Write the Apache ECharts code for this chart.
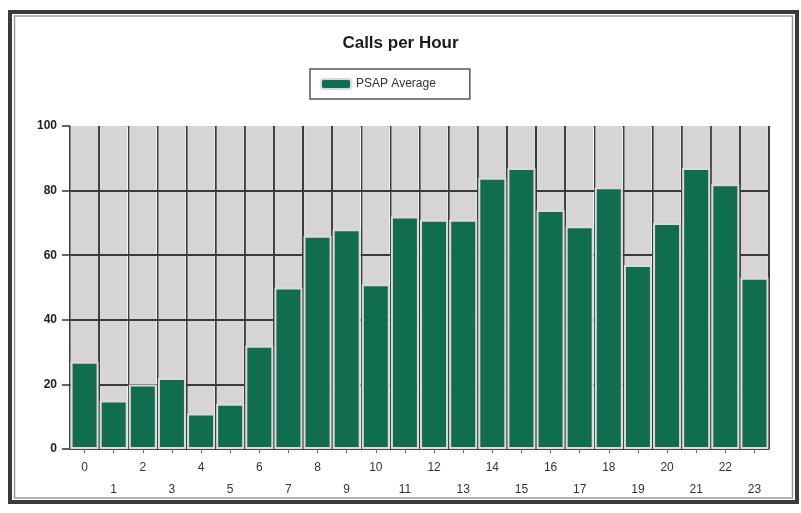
<!DOCTYPE html>
<html>
<head>
<meta charset="utf-8">
<script src="https://cdn.jsdelivr.net/npm/echarts@6/dist/echarts.min.js"></script>
<style>
  html, body { margin: 0; padding: 0; background: #ffffff; }
  #chart { width: 801px; height: 513px; }
</style>
</head>
<body>
<div id="chart"></div>
<script>
// Hours of the day and the average number of calls in each hour
var hours = ['0','1','2','3','4','5','6','7','8','9','10','11','12','13','14','15','16','17','18','19','20','21','22','23'];
var psapAverage = [27, 15, 20, 22, 11, 14, 32, 50, 66, 68, 51, 72, 71, 71, 84, 87, 74, 69, 81, 57, 70, 87, 82, 53];
var yTicks = [0, 20, 40, 60, 80, 100];
var seriesName = 'PSAP Average';

var yMax = yTicks[yTicks.length - 1];
var backdrop = hours.map(function () { return yMax; });
var gridLevels = yTicks.slice(1, -1).map(function (v) { return { yAxis: v }; });

var font = 'Arial, "Liberation Sans", sans-serif';
var chart = echarts.init(document.getElementById('chart'));

chart.setOption({
  animation: false,
  backgroundColor: '#ffffff',
  title: {
    text: 'Calls per Hour',
    left: 'center',
    top: 30,
    textStyle: { fontFamily: font, fontSize: 17, fontWeight: 900, color: '#1a1a1a' }
  },
  legend: {
    data: [seriesName],
    top: 69,
    left: 310,
    padding: [9, 34, 9, 10],
    itemWidth: 30,
    itemHeight: 10,
    itemGap: 6,
    borderColor: '#555',
    borderWidth: 1.5,
    textStyle: { fontFamily: font, fontSize: 12, color: '#333' }
  },
  grid: { left: 70, right: 32, top: 126, bottom: 64 },
  xAxis: [{
    type: 'category',
    data: hours,
    axisLine: { lineStyle: { color: '#444', width: 1 } },
    axisTick: { show: true, alignWithLabel: true, length: 4, lineStyle: { color: '#666' } },
    splitLine: { show: true, lineStyle: { color: '#3c3c3c', width: 2 } },
    axisLabel: {
      interval: 0,
      margin: 8,
      fontFamily: font,
      fontSize: 12,
      color: '#333',
      lineHeight: 22,
      formatter: function (v, i) { return i % 2 ? '\n' + v : v; }
    }
  }, {
    type: 'category',
    data: hours,
    show: false
  }],
  yAxis: {
    type: 'value',
    min: 0,
    max: yMax,
    interval: 20,
    axisLine: { show: true, lineStyle: { color: '#888' } },
    axisTick: { show: true, length: 8, lineStyle: { color: '#333', width: 1.5 } },
    splitLine: { show: true, lineStyle: { color: '#999', width: 1 } },
    axisLabel: { margin: 13, fontFamily: font, fontSize: 12, fontWeight: 'bold', color: '#222' }
  },
  series: [{
    name: 'backdrop',
    type: 'bar',
    xAxisIndex: 0,
    data: backdrop,
    barWidth: 27,
    z: 1,
    silent: true,
    itemStyle: { color: '#d7d4d4' },
    markLine: {
      silent: true,
      symbol: 'none',
      z: 3,
      label: { show: false },
      lineStyle: { color: '#3a3a3a', width: 2, type: 'solid' },
      data: gridLevels
    }
  }, {
    name: seriesName,
    type: 'bar',
    xAxisIndex: 1,
    data: psapAverage,
    barWidth: 28,
    z: 10,
    itemStyle: { color: '#116d4f', borderColor: '#dcd9d9', borderWidth: 2 }
  }],
  graphic: [{
    type: 'rect',
    silent: true,
    shape: { x: 10, y: 12, width: 787, height: 490 },
    style: { fill: 'none', stroke: '#3a3a3a', lineWidth: 4 }
  }, {
    type: 'rect',
    silent: true,
    shape: { x: 14.5, y: 16, width: 778, height: 482 },
    style: { fill: 'none', stroke: '#9a9a9a', lineWidth: 1.5 }
  }]
});
</script>
</body>
</html>
